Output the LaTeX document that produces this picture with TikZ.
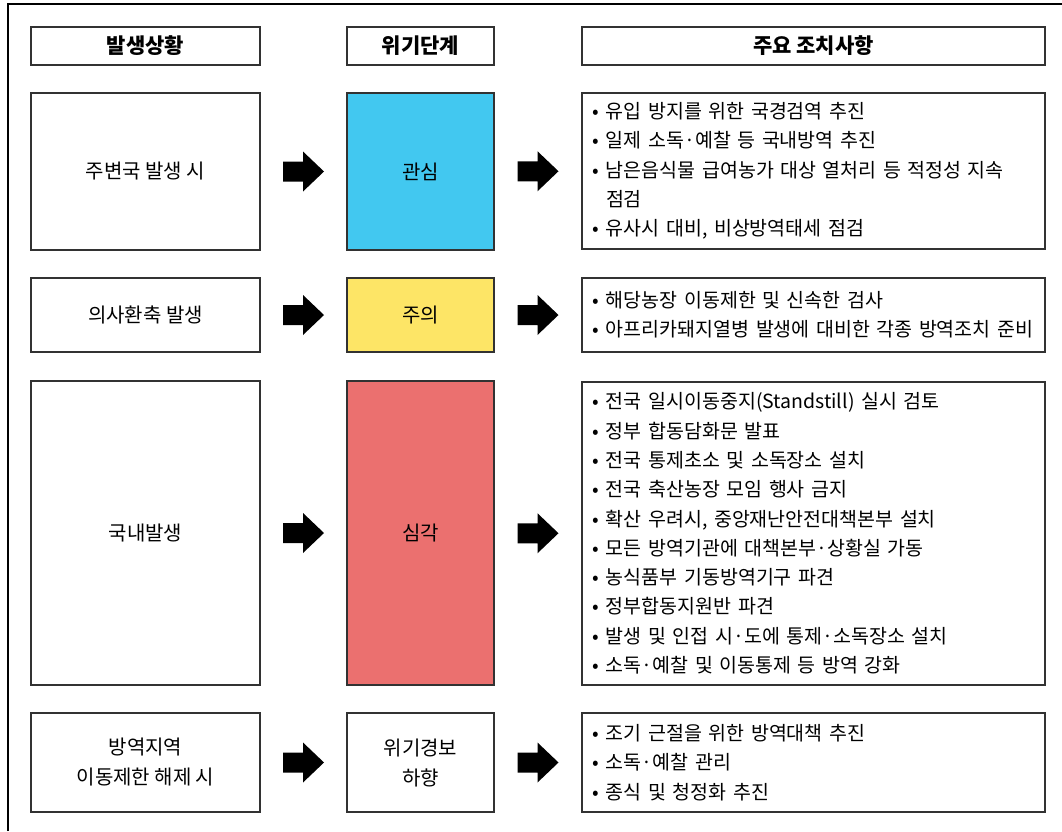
\documentclass[tikz,border=0pt]{standalone}
\usepackage{fontspec}
\setmainfont{Noto Sans CJK KR}
\usetikzlibrary{calc}
\definecolor{bcyan}{RGB}{66,200,240}
\definecolor{byellow}{RGB}{253,229,102}
\definecolor{bred}{RGB}{235,112,111}
\definecolor{edge}{RGB}{50,50,50}
\newcommand{\itm}[1]{\makebox[14pt][l]{•}#1}
\newcommand{\cnt}[1]{\hspace*{14pt}#1}
\begin{document}
\begin{tikzpicture}[x=1pt,y=-1pt,
  box/.style={draw=edge,line width=1.3pt,rectangle,inner sep=0pt,align=center,font=\fontsize{20}{30}\selectfont},
  colbox/.style={box,minimum width=229pt},
  midbox/.style={box,minimum width=147pt},
  listbox/.style={draw=edge,line width=1.3pt,rectangle,inner xsep=10pt,inner ysep=0pt,align=left,text width=443pt,font=\fontsize{19.5}{29.3}\selectfont},
  hdr/.style={box,font=\fontsize{21}{24}\bfseries\selectfont,minimum height=38pt},
  blockarrow/.style={fill=black,draw=none}
]
\useasboundingbox (0,0) rectangle (1062,831);
\draw[line width=2pt] (8,831) -- (8,4) -- (1062,4);

% headers
\node[hdr,minimum width=229pt] (h1) at (145.5,46) {발생상황};
\node[hdr,minimum width=147pt] (h2) at (420.5,46) {위기단계};
\node[hdr,minimum width=463pt,minimum height=38pt] (h3) at (813.5,46) {주요 조치사항};

% row 1
\node[colbox,minimum height=157pt] (l1) at (145.5,171.5) {주변국 발생 시};
\node[midbox,minimum height=157pt,fill=bcyan] (m1) at (420.5,171.5) {관심};
\node[listbox,minimum height=156pt] (r1) at (813.5,171) {\itm{유입 방지를 위한 국경검역 추진}\\
\itm{일제 소독·예찰 등 국내방역 추진}\\
\itm{남은음식물 급여농가 대상 열처리 등 적정성 지속}\\
\cnt{점검}\\
\itm{유사시 대비, 비상방역태세 점검}};

% row 2
\node[colbox,minimum height=74pt] (l2) at (145.5,315) {의사환축 발생};
\node[midbox,minimum height=74pt,fill=byellow] (m2) at (420.5,315) {주의};
\node[listbox,minimum height=74pt] (r2) at (813.5,315) {\itm{해당농장 이동제한 및 신속한 검사}\\
\itm{아프리카돼지열병 발생에 대비한 각종 방역조치 준비}};

% row 3
\node[colbox,minimum height=304pt] (l3) at (145.5,533) {국내발생};
\node[midbox,minimum height=304pt,fill=bred] (m3) at (420.5,533) {심각};
\node[listbox,minimum height=303pt] (r3) at (813.5,533.5) {\itm{전국 일시이동중지(Standstill) 실시 검토}\\
\itm{정부 합동담화문 발표}\\
\itm{전국 통제초소 및 소독장소 설치}\\
\itm{전국 축산농장 모임 행사 금지}\\
\itm{확산 우려시, 중앙재난안전대책본부 설치}\\
\itm{모든 방역기관에 대책본부·상황실 가동}\\
\itm{농식품부 기동방역기구 파견}\\
\itm{정부합동지원반 파견}\\
\itm{발생 및 인접 시·도에 통제·소독장소 설치}\\
\itm{소독·예찰 및 이동통제 등 방역 강화}};

% row 4
\node[colbox,minimum height=99pt] (l4) at (145.5,762.5) {방역지역\\이동제한 해제 시};
\node[midbox,minimum height=99pt] (m4) at (420.5,762.5) {위기경보\\하향};
\node[listbox,minimum height=99pt] (r4) at (813.5,762.5) {\itm{조기 근절을 위한 방역대책 추진}\\
\itm{소독·예찰 관리}\\
\itm{종식 및 청정화 추진}};

% block arrows
\foreach \i in {1,2,3,4}{
  \coordinate (a\i) at ($(l\i.east)!0.5!(m\i.west)$);
  \coordinate (b\i) at ($(m\i.east)!0.5!(r\i.west)$);
  \foreach \c in {a\i,b\i}{
    \fill[blockarrow] ($(\c)+(-20.5,-10)$) -- ($(\c)+(-0.5,-10)$) -- ($(\c)+(-0.5,-20)$)
      -- ($(\c)+(20.5,0)$) -- ($(\c)+(-0.5,20)$) -- ($(\c)+(-0.5,10)$)
      -- ($(\c)+(-20.5,10)$) -- cycle;
  }
}
\end{tikzpicture}
\end{document}
